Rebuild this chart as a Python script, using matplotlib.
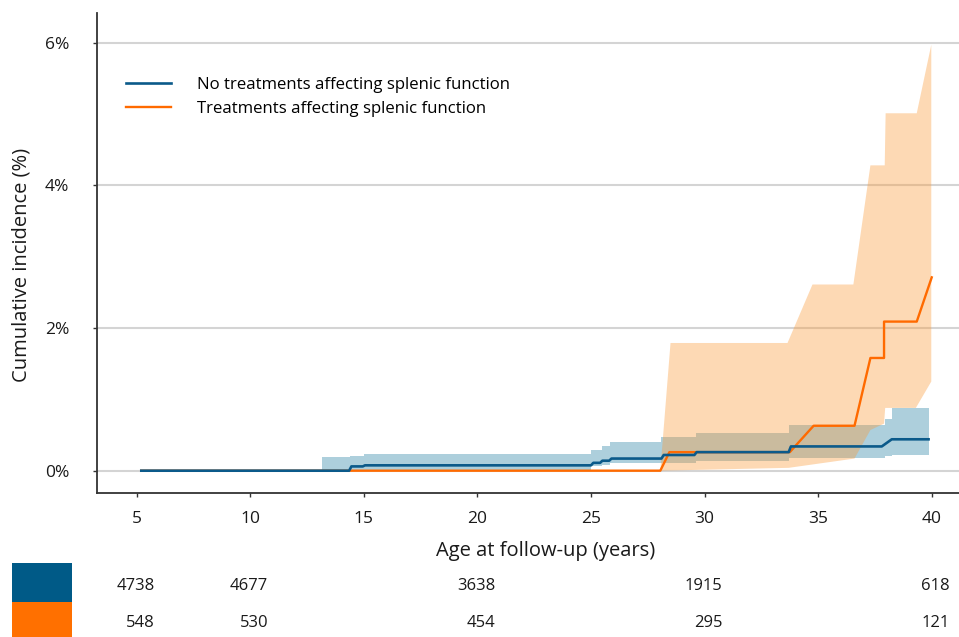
import matplotlib.pyplot as plt
from matplotlib.patches import Rectangle
import matplotlib.transforms as mtransforms

plt.rcParams['font.family'] = ['Open Sans', 'DejaVu Sans']

# series: no treatments affecting splenic function (blue)
blue_x = [5.2, 14.35, 14.45, 14.95, 15.05, 25.0, 25.1, 25.4, 25.5, 25.8, 25.9,
          28.1, 28.2, 29.55, 29.65, 33.7, 33.8, 37.8, 38.24, 39.86]
blue_y = [0, 0, 0.06, 0.06, 0.075, 0.075, 0.11, 0.11, 0.14, 0.14, 0.17,
          0.17, 0.22, 0.22, 0.26, 0.26, 0.34, 0.34, 0.44, 0.44]

blue_band_x = [5.2, 13.15, 13.15, 14.4, 14.4, 15.0, 15.0, 25.0, 25.0, 25.5, 25.5,
               25.84, 25.84, 28.1, 28.1, 29.6, 29.6, 33.7, 33.7, 37.96, 37.96,
               38.24, 38.24, 39.86]
blue_upper = [0, 0, 0.19, 0.19, 0.2, 0.2, 0.23, 0.23, 0.29, 0.29, 0.34,
              0.34, 0.40, 0.40, 0.47, 0.47, 0.53, 0.53, 0.64, 0.64, 0.72,
              0.72, 0.88, 0.88]
blue_lower = [0, 0, 0, 0, 0, 0, 0, 0, 0.06, 0.06, 0.08,
              0.08, 0.11, 0.11, 0.11, 0.11, 0.14, 0.14, 0.18, 0.18, 0.2,
              0.2, 0.22, 0.22]

# series: treatments affecting splenic function (orange)
orange_x = [5.2, 28.05, 28.45, 33.75, 34.8, 36.6, 37.3, 37.9, 37.9, 39.34, 40.0]
orange_y = [0, 0, 0.26, 0.26, 0.63, 0.63, 1.58, 1.58, 2.09, 2.09, 2.71]

orange_up_x = [28.05, 28.5, 33.65, 34.75, 36.55, 37.3, 37.93, 37.97, 39.34, 39.98]
orange_up_y = [0, 1.79, 1.79, 2.61, 2.61, 4.28, 4.28, 5.01, 5.01, 5.97]
orange_lo_x = [28.05, 33.7, 36.6, 37.3, 37.9, 37.95, 39.3, 39.98]
orange_lo_y = [0, 0.04, 0.17, 0.57, 0.66, 0.88, 0.88, 1.25]

labels = ['No treatments affecting splenic function', 'Treatments affecting splenic function']

# numbers at risk
risk_ages = [5, 10, 20, 30, 40]
risk_blue = [4738, 4677, 3638, 1915, 618]
risk_orange = [548, 530, 454, 295, 121]

yticks = [0, 2, 4, 6]
xticks = [5, 10, 15, 20, 25, 30, 35, 40]

BLUE = '#0B5A8A'
ORANGE = '#FF6A00'

fig = plt.figure(figsize=(9.59, 6.37), dpi=100)
ax = fig.add_axes([97 / 959, 1 - 493.3 / 637, 1 - 97 / 959, (493.3 - 12.7) / 637])

for yv in yticks:
    ax.axhline(yv, color='#D4D4D4', lw=1.5, zorder=0)

ax.fill_between(blue_band_x, blue_lower, blue_upper, color='#ADCFDC', lw=0, zorder=1)
ax.fill(orange_up_x + orange_lo_x[::-1], orange_up_y + orange_lo_y[::-1],
        color='#FA9B3A', alpha=0.38, lw=0, zorder=2)

ax.plot(orange_x, orange_y, color=ORANGE, lw=1.7, zorder=3, label=labels[1])
ax.plot(blue_x, blue_y, color=BLUE, lw=1.9, zorder=4, label=labels[0])

ax.set_xlim(3.25, 41.2)
ax.set_ylim(-0.317, 6.42)
ax.set_xticks(xticks)
ax.set_yticks(yticks)
ax.set_yticklabels([f'{v}%' for v in yticks])

for side in ['top', 'right']:
    ax.spines[side].set_visible(False)
for side in ['left', 'bottom']:
    ax.spines[side].set_color('#333333')
    ax.spines[side].set_linewidth(1.3)
ax.tick_params(axis='both', direction='out', length=3, width=1, color='#333333',
               labelsize=12.5, labelcolor='#1a1a1a')
ax.tick_params(axis='y', pad=17)
ax.tick_params(axis='x', pad=10)

handles, hl = ax.get_legend_handles_labels()
ax.legend(handles[::-1], hl[::-1], loc='upper left', bbox_to_anchor=(0.0336, 0.866),
          frameon=False, fontsize=12.1, handlelength=2.7, handletextpad=1.55,
          labelspacing=0.48, borderpad=0, borderaxespad=0)

fig.text(22 / 959, 1 - 265 / 637, 'Cumulative incidence (%)', rotation=90,
         ha='center', va='center', fontsize=14.5, color='#1a1a1a')
fig.text(546 / 959, 1 - 551 / 637, 'Age at follow-up (years)',
         ha='center', va='center', fontsize=14.5, color='#1a1a1a')

# risk table
fig.patches.append(Rectangle((12 / 959, 1 - 602 / 637), 60 / 959, 39 / 637,
                             transform=fig.transFigure, color='#005A87', lw=0))
fig.patches.append(Rectangle((12 / 959, 0), 60 / 959, 35 / 637,
                             transform=fig.transFigure, color='#FF7000', lw=0))
trans = mtransforms.blended_transform_factory(ax.transData, fig.transFigure)
trans = trans + mtransforms.ScaledTranslation(18 / 100, 0, fig.dpi_scale_trans)
for age, nb, no in zip(risk_ages, risk_blue, risk_orange):
    ax.text(age, 1 - 586 / 637, str(nb), transform=trans, ha='right', va='center',
            fontsize=12, color='#1a1a1a', clip_on=False)
    ax.text(age, 1 - 623 / 637, str(no), transform=trans, ha='right', va='center',
            fontsize=12, color='#1a1a1a', clip_on=False)

fig.savefig('out.png', dpi=100)
